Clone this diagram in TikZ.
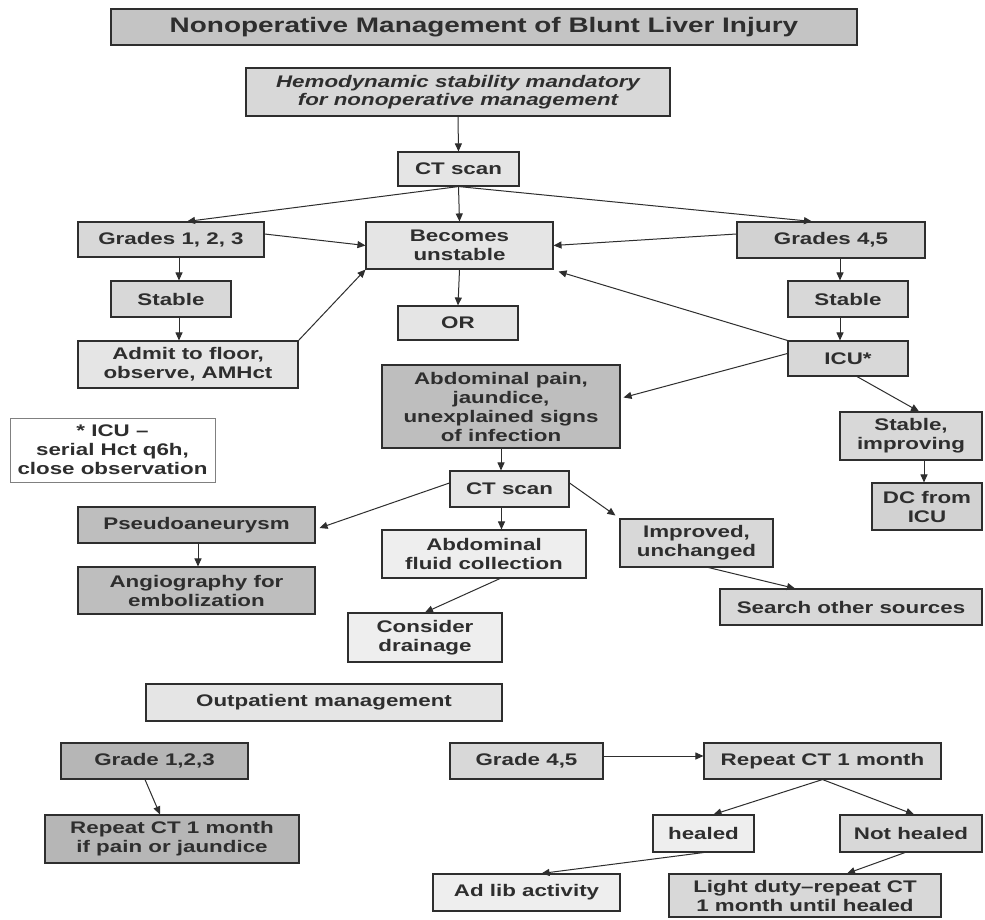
\documentclass[tikz,border=0pt]{standalone}
\usepackage{fontspec}
\setmainfont{Liberation Sans}[FakeStretch=1.33]
\usetikzlibrary{arrows.meta,calc}
\definecolor{ink}{HTML}{2E2E2E}
\definecolor{gdark}{HTML}{BEBEBE}
\definecolor{gdarker}{HTML}{B6B6B6}
\definecolor{gmid}{HTML}{D8D8D8}
\definecolor{gmid2}{HTML}{D2D2D2}
\definecolor{glight}{HTML}{E5E5E5}
\definecolor{gpale}{HTML}{EEEEEE}
\definecolor{gtitle}{HTML}{C4C4C4}
\begin{document}
\begin{tikzpicture}[x=1pt,y=-1pt,
  box/.style={draw=ink, line width=1.1pt, inner sep=0pt, align=center, text=ink,
              font=\fontsize{16.8}{19}\selectfont\bfseries},
  sz/.style 2 args={minimum width=#1pt, minimum height=#2pt},
  arr/.style={draw=ink, line width=1pt, -{Triangle[length=8pt,width=7pt]}},
]
\useasboundingbox (0,0) rectangle (985,920);
\fill[white] (0,0) rectangle (985,920);

% top section
\node[box, fill=gtitle, sz={746}{36}, font=\fontsize{21}{24}\selectfont\bfseries] (title) at (484,27) {Nonoperative Management of Blunt Liver Injury};
\node[box, fill=gmid, sz={424}{48}, font=\fontsize{16.8}{17.5}\selectfont\bfseries\itshape] (hemo) at (458,92) {Hemodynamic stability mandatory\\for nonoperative management};
\node[box, fill=glight, sz={121}{34}] (ct1) at (458.5,169) {CT scan};
\node[box, fill=gmid, sz={186}{35}] (g123) at (171,239.5) {Grades 1, 2, 3};
\node[box, fill=glight, sz={187}{47}] (becomes) at (459.5,245.5) {Becomes\\unstable};
\node[box, fill=gmid2, sz={188}{36}] (g45) at (831,240) {Grades 4,5};
\node[box, fill=gmid, sz={120}{36}] (stable1) at (171,299) {Stable};
\node[box, fill=gmid, sz={120}{36}] (stable2) at (848,299) {Stable};
\node[box, fill=glight, sz={220}{47}] (admit) at (188,364.5) {Admit to floor,\\observe, AMHct};
\node[box, fill=glight, sz={120}{34}] (or) at (458,323) {OR};
\node[box, fill=gmid, sz={120}{35}] (icu) at (848,358.5) {ICU*};
\node[box, fill=gdark, sz={238}{83}] (abd) at (501,406.5) {Abdominal pain,\\jaundice,\\unexplained signs\\of infection};
\node[box, fill=white, draw=gray, line width=0.8pt, sz={205}{64}] (note) at (112.5,450) {* ICU --\\serial Hct q6h,\\close observation};
\node[box, fill=gmid, sz={142}{48}] (stimpr) at (911,436) {Stable,\\improving};
\node[box, fill=gmid2, sz={110}{47}] (dc) at (927,506.5) {DC from\\ICU};
\node[box, fill=glight, sz={119}{36}] (ct2) at (509.5,489) {CT scan};
\node[box, fill=gdark, sz={237}{36}] (pseudo) at (196.5,525) {Pseudoaneurysm};
\node[box, fill=gdark, sz={237}{47}] (angio) at (196.5,590.5) {Angiography for\\embolization};
\node[box, fill=gpale, sz={204}{48}] (fluid) at (484,554) {Abdominal\\fluid collection};
\node[box, fill=gmid, sz={153}{48}] (improved) at (696.5,543) {Improved,\\unchanged};
\node[box, fill=gmid, sz={262}{36}] (search) at (851,607) {Search other sources};
\node[box, fill=gpale, sz={154}{49}] (consider) at (425,637.5) {Consider\\drainage};

% outpatient section
\node[box, fill=glight, sz={356}{37}] (outpt) at (324,702.5) {Outpatient management};
\node[box, fill=gdarker, sz={187}{36}] (gr123) at (154.5,761) {Grade 1,2,3};
\node[box, fill=gdarker, sz={254}{48}] (rct1) at (172,839) {Repeat CT 1 month\\if pain or jaundice};
\node[box, fill=gmid, sz={153}{36}] (gr45) at (526.5,761) {Grade 4,5};
\node[box, fill=gmid, sz={237}{36}] (rct2) at (822.5,761) {Repeat CT 1 month};
\node[box, fill=gpale, sz={101}{37}] (healed) at (703.5,833.5) {healed};
\node[box, fill=gmid, sz={142}{37}] (nothealed) at (911,833.5) {Not healed};
\node[box, fill=gpale, sz={187}{37}] (adlib) at (526.5,892.5) {Ad lib activity};
\node[box, fill=gmid, sz={272}{43}] (light) at (805,895.5) {Light duty--repeat CT\\1 month until healed};

% helper coordinates for vertical/horizontal connectors
\coordinate (s1a) at ($(stable1.south)+(8,0)$);
\coordinate (s2a) at ($(stable2.north)+(-8,0)$);
\coordinate (dca) at ($(dc.north)+(-3,0)$);
\coordinate (c2a) at ($(ct2.south)+(-8,0)$);
\coordinate (g45a) at ($(gr45.east)+(0,-5)$);

% connectors
\draw[arr] (hemo.south) -- (ct1.north);
\draw[arr] (ct1.south) -- ($(g123.north)+(16,0)$);
\draw[arr] (ct1.south) -- (becomes.north);
\draw[arr] (ct1.south) -- ($(g45.north)+(-19,0)$);
\draw[arr] ($(g123.east)+(0,-5.5)$) -- (becomes.west);
\draw[arr] ($(g45.west)+(0,-6)$) -- (becomes.east);
\draw[arr] ($(g123.south)+(8,0)$) -- ($(stable1.north)+(8,0)$);
\draw[arr] (s1a) -- (s1a |- admit.north);
\draw[arr] (admit.north east) -- (becomes.south west);
\draw[arr] (becomes.south) -- (or.north);
\draw[arr] (s2a |- g45.south) -- (s2a);
\draw[arr] ($(stable2.south)+(-8,0)$) -- ($(icu.north)+(-8,0)$);
\draw[arr] (icu.north west) -- ($(becomes.south east)+(5,2)$);
\draw[arr] ($(icu.west)+(0,-5)$) -- ($(abd.east)+(3,-9)$);
\draw[arr] ($(icu.south)+(9,0)$) -- ($(stimpr.north)+(8,0)$);
\draw[arr] (dca |- stimpr.south) -- (dca);
\draw[arr] (abd.south) -- (abd.south |- ct2.north);
\draw[arr] ($(ct2.west)+(0,-6)$) -- ($(pseudo.east)+(4,3)$);
\draw[arr] (c2a) -- (c2a |- fluid.north);
\draw[arr] ($(ct2.east)+(0,-6)$) -- ($(improved.north west)+(-4,-3)$);
\draw[arr] ($(pseudo.south)+(1.5,0)$) -- ($(angio.north)+(1.5,0)$);
\draw[arr] ($(fluid.south)+(16,0)$) -- (consider.north);
\draw[arr] ($(improved.south)+(12,0)$) -- ($(search.north)+(-56,0)$);
\draw[arr] ($(gr123.south)+(-9.5,0)$) -- ($(rct1.north)+(-12,0)$);
\draw[arr] (g45a) -- (g45a -| rct2.west);
\draw[arr] (rct2.south) -- ($(healed.north)+(10,0)$);
\draw[arr] (rct2.south) -- ($(nothealed.north)+(3,0)$);
\draw[arr] (healed.south) -- ($(adlib.north)+(15,0)$);
\draw[arr] ($(nothealed.south)+(-6,0)$) -- ($(light.north)+(42,0)$);
\end{tikzpicture}
\end{document}
